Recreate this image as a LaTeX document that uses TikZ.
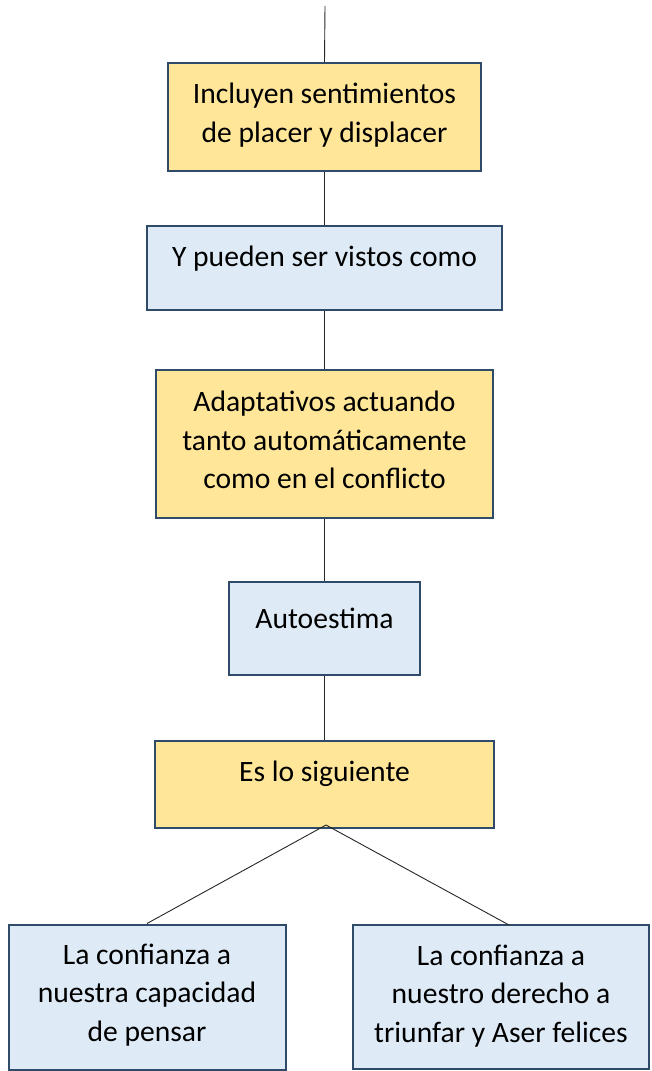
\documentclass[tikz,border=0pt]{standalone}
\usepackage{fontspec}
\setmainfont{Carlito}
\definecolor{ybox}{HTML}{FFE699}
\definecolor{bbox}{HTML}{DEEBF7}
\definecolor{bord}{HTML}{2F4B69}
\begin{document}
\begin{tikzpicture}[x=1pt,y=-1pt,
  boxbase/.style={draw=bord, line width=2pt, inner sep=0pt, rectangle},
  yellowbox/.style={boxbase, fill=ybox},
  bluebox/.style={boxbase, fill=bbox},
  txt/.style={align=center, inner sep=0pt, font=\fontsize{29.6}{38.3}\selectfont},
  conn/.style={draw=black!85, line width=0.9pt}]
\useasboundingbox (0,0) rectangle (651,1071);
\coordinate (top) at (325,6);
% boxes
\node[yellowbox, minimum width=313pt, minimum height=108pt] (b1) at (324.5,117) {};
\node[bluebox, minimum width=355pt, minimum height=84pt] (b2) at (324.5,268) {};
\node[yellowbox, minimum width=337pt, minimum height=148pt] (b3) at (324.5,444) {};
\node[bluebox, minimum width=191pt, minimum height=93pt] (b4) at (324.5,628) {};
\node[yellowbox, minimum width=339pt, minimum height=87pt] (b5) at (324.5,784.5) {};
\node[bluebox, minimum width=277pt, minimum height=145pt] (b6) at (147,997) {};
\node[bluebox, minimum width=296pt, minimum height=144pt] (b7) at (501,997) {};
% texts
\node[txt] (t1) at (324.5,115) {Incluyen sentimientos\\de placer y displacer};
\node[txt] (t2) at (324.5,259) {Y pueden ser vistos como};
\node[txt] (t3) at (324.5,440) {Adaptativos actuando\\tanto automáticamente\\como en el conflicto};
\node[txt] (t4) at (324.5,618) {Autoestima};
\node[txt] (t5) at (324.5,774) {Es lo siguiente};
\node[txt] (t6) at (147,995) {La confianza a\\nuestra capacidad\\de pensar};
\node[txt] (t7) at (501,996) {La confianza a\\nuestro derecho a\\triunfar y Aser felices};
% connectors
\coordinate (split) at (326,825);
\coordinate (r7) at (509,925);
\draw[conn] (top) -- (b1.north);
\draw[conn] (b1.south) -- (b2.north);
\draw[conn] (b2.south) -- (b3.north);
\draw[conn] (b3.south) -- (b4.north);
\draw[conn] (b4.south) -- (b5.north);
\draw[conn] (split) -- (b6.north);
\draw[conn] (split) -- (r7);
\end{tikzpicture}
\end{document}
